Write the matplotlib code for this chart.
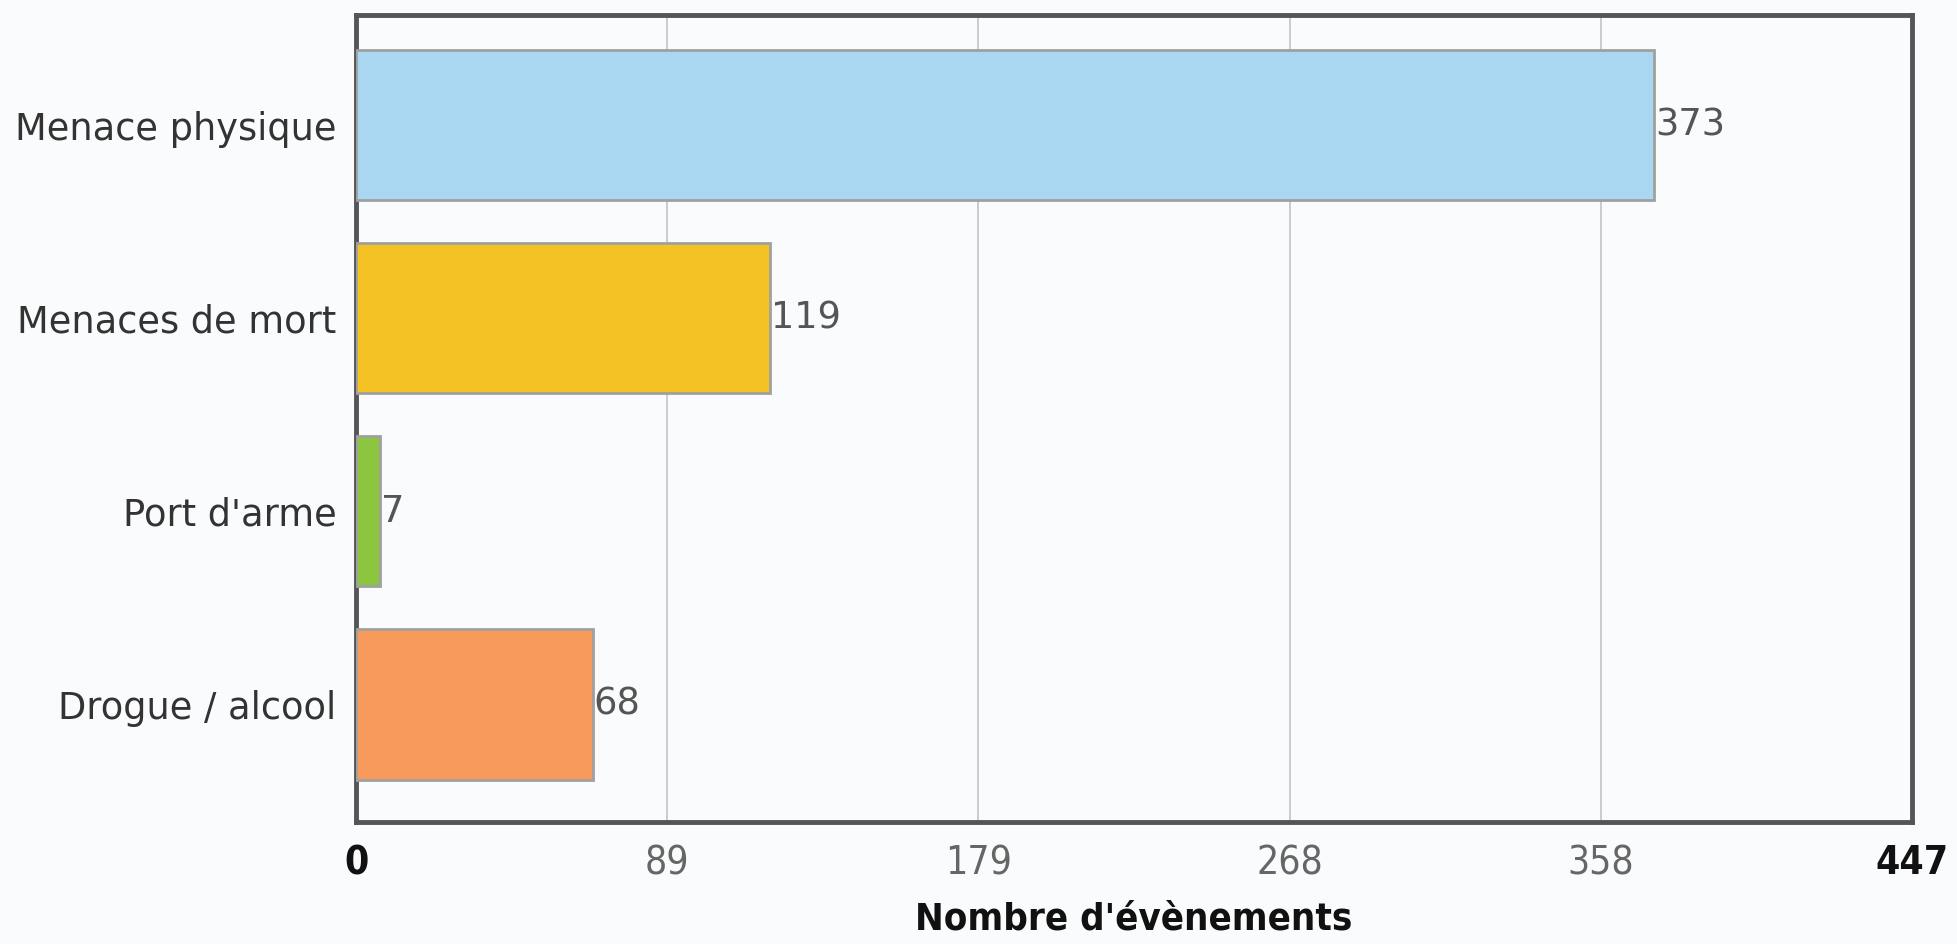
import matplotlib.pyplot as plt
import numpy as np

# Data
categories = ["Menace physique", "Menaces de mort", "Port d'arme", "Drogue / alcool"]
values = [373, 119, 7, 68]
bar_colors = ["#a9d7f1", "#f5c225", "#8cc63e", "#f79a5c"]
x_max = 447
tick_labels = ["0", "89", "179", "268", "358", "447"]

fig = plt.figure(figsize=(19.57, 9.44), dpi=100)
fig.patch.set_facecolor("#fafbfc")
ax = fig.add_axes([356 / 1957, 1 - 822 / 944, (1912 - 356) / 1957, (822 - 15) / 944])
ax.set_facecolor("#fafbfc")

y = np.arange(len(categories))
ax.barh(y, values, height=0.78, color=bar_colors, edgecolor="#a0a0a0", linewidth=2, zorder=3)

# value labels next to each bar
for yi, v in zip(y, values):
    ax.text(v + 0.3, yi, str(v), va="center", ha="left", fontsize=26.5, color="#555555",
            family="DejaVu Sans", zorder=4)

ax.set_xlim(0, x_max)
ax.set_ylim(3.61, -0.57)
ax.set_yticks(y)
ax.set_yticklabels(categories, fontsize=26.5, color="#333333", family="DejaVu Sans")

ticks = np.linspace(0, x_max, len(tick_labels))
ax.set_xticks(ticks)
ax.set_xticklabels(tick_labels, fontsize=28, fontstretch="condensed")
for i, lab in enumerate(ax.get_xticklabels()):
    if i in (0, len(tick_labels) - 1):
        lab.set_color("#111111")
        lab.set_fontweight("bold")
    else:
        lab.set_color("#666666")

ax.tick_params(axis="both", length=0)
ax.tick_params(axis="x", pad=16)
ax.tick_params(axis="y", pad=14)

ax.grid(axis="x", color="#c8c8c8", linewidth=1.3, zorder=0)
for s in ax.spines.values():
    s.set_color("#555555")
    s.set_linewidth(3.5)

ax.set_xlabel("Nombre d'évènements", fontsize=27.5, fontweight="bold", color="#111111",
              fontstretch="condensed", labelpad=14)

fig.savefig("out.png", dpi=100, facecolor=fig.get_facecolor())
